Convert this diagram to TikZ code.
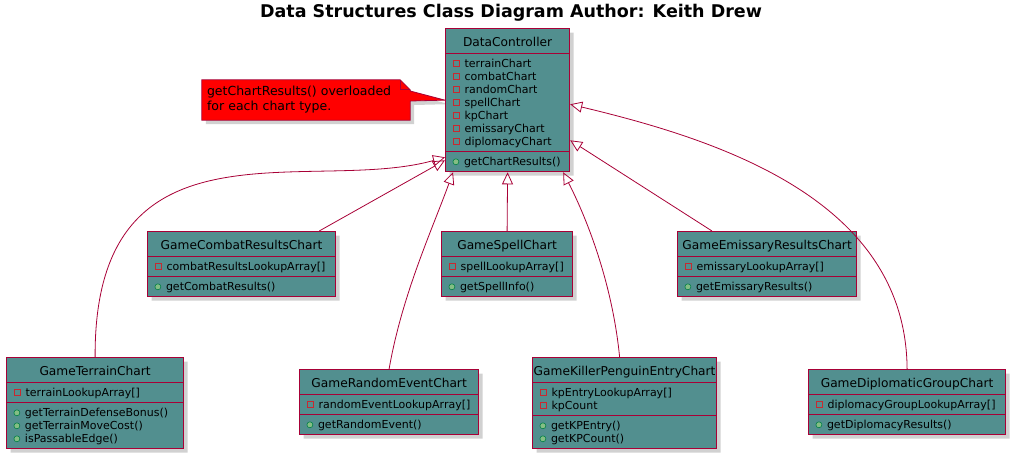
\documentclass[tikz,border=0pt]{standalone}
\usepackage{fontspec}
\setmainfont{DejaVu Sans}
\usepackage{tikz}
\usetikzlibrary{shapes.multipart, arrows.meta, shadows, calc, backgrounds}
\definecolor{umlteal}{RGB}{82,143,143}
\definecolor{umlborder}{RGB}{168,0,54}
\definecolor{privred}{RGB}{200,41,48}
\definecolor{pubgreen}{RGB}{3,128,72}
\definecolor{publight}{RGB}{132,190,132}
\newcommand{\privfield}{\tikz[baseline=0pt]\draw[privred, line width=0.8pt] (0pt,0.6pt) rectangle (6.4pt,7pt);\hspace{4.8pt}\rule[-2.5pt]{0pt}{13pt}}
\newcommand{\pubmethod}{\tikz[baseline=0pt]\draw[pubgreen, fill=publight, line width=0.6pt] (3.3pt,3.8pt) circle (3pt);\hspace{4.8pt}\rule[-2.5pt]{0pt}{13pt}}
\newcommand{\classname}[1]{\makebox[0pt]{\fontsize{12.2}{14}\selectfont\rule[-3.5pt]{0pt}{17.5pt}#1}}

\begin{document}
\begin{tikzpicture}[x=1pt, y=-1pt,
    umlclass/.style={rectangle split, rectangle split parts=3,
                     rectangle split part align={center,left,left}, align=left,
                     draw=umlborder, line width=1.2pt, fill=umlteal, anchor=north west,
                     inner xsep=7pt, inner ysep=3pt, font=\fontsize{11}{13}\selectfont,
                     drop shadow={shadow xshift=4pt, shadow yshift=-4pt, fill=black!45, opacity=0.4}},
    notetext/.style={minimum width=208pt, minimum height=40pt, text width=198pt,
                     inner xsep=5pt, inner ysep=0pt, align=left,
                     font=\fontsize{12.5}{15}\selectfont},
    notefill/.style={fill=red, draw=umlborder, line width=0.8pt,
                     drop shadow={shadow xshift=4pt, shadow yshift=-4pt, fill=black!45, opacity=0.4}},
    extends/.style={draw=umlborder, line width=0.8pt, -{Triangle[open, length=12pt, width=11pt]}}
]
\useasboundingbox (0,0) rectangle (1022,458);

\node[font=\bfseries\fontsize{17.5}{20}\selectfont, anchor=base] (title) at (511,17)
    {Data Structures Class Diagram Author: Keith Drew};

% controller
\node[umlclass, minimum width=124pt] (dc) at (445,28) {\classname{DataController}
    \nodepart{two}\privfield terrainChart\\\privfield combatChart\\\privfield randomChart\\
    \privfield spellChart\\\privfield kpChart\\\privfield emissaryChart\\\privfield diplomacyChart
    \nodepart{three}\pubmethod getChartResults()};

% charts, upper row
\node[umlclass, minimum width=188pt] (combat) at (147,231) {\classname{GameCombatResultsChart}
    \nodepart{two}\privfield combatResultsLookupArray[]
    \nodepart{three}\pubmethod getCombatResults()};
\node[umlclass, minimum width=131pt] (spell) at (441,231) {\classname{GameSpellChart}
    \nodepart{two}\privfield spellLookupArray[]
    \nodepart{three}\pubmethod getSpellInfo()};
\node[umlclass, minimum width=179pt] (emissary) at (677,231) {\classname{GameEmissaryResultsChart}
    \nodepart{two}\privfield emissaryLookupArray[]
    \nodepart{three}\pubmethod getEmissaryResults()};

% charts, lower row
\node[umlclass, minimum width=177pt] (terrain) at (6,357) {\classname{GameTerrainChart}
    \nodepart{two}\privfield terrainLookupArray[]
    \nodepart{three}\pubmethod getTerrainDefenseBonus()\\\pubmethod getTerrainMoveCost()\\
    \pubmethod isPassableEdge()};
\node[umlclass, minimum width=179pt] (random) at (299,369) {\classname{GameRandomEventChart}
    \nodepart{two}\privfield randomEventLookupArray[]
    \nodepart{three}\pubmethod getRandomEvent()};
\node[umlclass, minimum width=184pt] (kp) at (532,357) {\classname{GameKillerPenguinEntryChart}
    \nodepart{two}\privfield kpEntryLookupArray[]\\\privfield kpCount
    \nodepart{three}\pubmethod getKPEntry()\\\pubmethod getKPCount()};
\node[umlclass, minimum width=197pt] (diplo) at (808,369) {\classname{GameDiplomaticGroupChart}
    \nodepart{two}\privfield diplomacyGroupLookupArray[]
    \nodepart{three}\pubmethod getDiplomacyResults()};

% note
\node[notetext] (note) at (306,100) {getChartResults() overloaded\\for each chart type.};
\begin{scope}[on background layer]
\path[notefill] (note.north west) -- ($(note.north east)+(-10,0)$) -- ($(note.north east)+(0,10)$)
    -- ($(note.east)+(0,-9)$) -- (dc.west) -- ($(note.east)+(0,1)$)
    -- (note.south east) -- (note.south west) -- cycle;
\draw[umlborder, line width=0.8pt] ($(note.north east)+(-10,0)$) -- ($(note.north east)+(-10,10)$)
    -- ($(note.north east)+(0,10)$);
\end{scope}

% inheritance
\draw[extends] (terrain.north) .. controls (94,110) and (310,195) .. ($(dc.south west)+(0,-15)$);
\draw[extends] ($(combat.north east)+(-17,0)$) -- ($(dc.south west)+(0,-12)$);
\draw[extends] (random.north) .. controls (402,295) and (432,230) .. ($(dc.south west)+(8,0)$);
\draw[extends] (spell.north) -- (dc.south);
\draw[extends] ($(kp.north)+(-5,0)$) .. controls (612,280) and (585,215) .. ($(dc.south east)+(-7,0)$);
\draw[extends] ($(emissary.north west)+(35,0)$) -- ($(dc.south east)+(0,-32)$);
\draw[extends] (diplo.north) .. controls (906,200) and (720,140) .. ($(dc.south east)+(0,-68)$);
\end{tikzpicture}
\end{document}
